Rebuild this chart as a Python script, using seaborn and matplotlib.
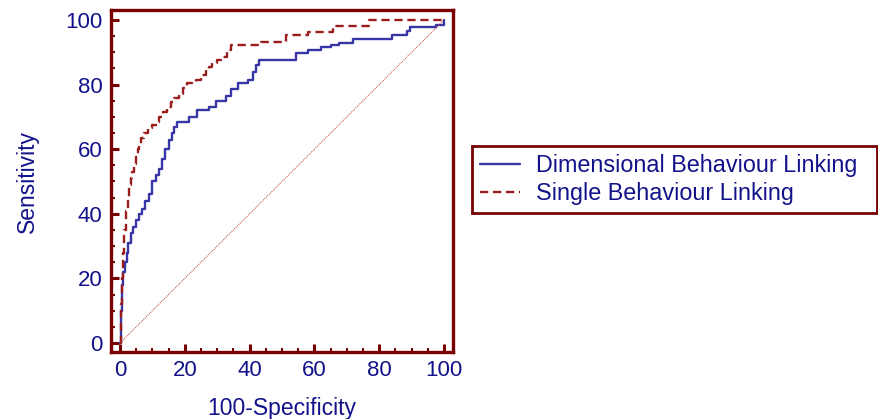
import numpy as np
import pandas as pd
import seaborn as sns
import matplotlib.pyplot as plt
from matplotlib.ticker import MultipleLocator

# ROC points (x = 100-Specificity, y = Sensitivity)
dim_fpr = [0, 0.3, 0.6, 1.0, 1.5, 2.0, 2.6, 3.3, 4.0, 4.9, 5.8, 6.8, 7.8, 9.0, 10.0, 11.0,
           12.0, 13.0, 14.0, 15.0, 16.0, 16.7, 17.6, 21.4, 23.9, 27.6, 29.6, 32.7, 34.3,
           36.3, 39.4, 41.0, 42.0, 43.0, 54.4, 58.0, 62.0, 65.0, 67.5, 72.0, 84.0, 88.5,
           89.5, 97.7, 100]
dim_tpr = [0, 10, 18, 22, 25, 28, 31, 34, 36, 38, 40, 41.5, 44, 46, 50, 52,
           54, 57, 60, 63, 65, 67, 68.5, 70, 72, 73, 75, 76.5, 78.5,
           80.5, 81.5, 84, 86, 87.6, 89.8, 90.7, 91.5, 92.2, 93, 94, 95.5, 96.5,
           97.7, 98.5, 100]

single_fpr = [0, 0.3, 0.6, 0.9, 1.2, 1.8, 2.3, 2.8, 3.3, 3.7, 4.3, 4.9, 5.4, 5.9, 6.6,
              7.4, 8.5, 9.9, 11.5, 12.0, 13.3, 14.6, 15.7, 16.7, 18.3, 19.5, 20.7, 23.4,
              25.0, 26.5, 27.5, 28.5, 30.0, 31.2, 33.0, 34.3, 43.5, 51.3, 58.0, 65.6,
              77.0, 100]
single_tpr = [0, 12, 20, 28, 35, 41, 45, 49, 51, 53, 55.5, 57.5, 60, 61.7, 63.5,
              65, 66.5, 67.4, 68.4, 70, 71.5, 73, 74.5, 75.7, 77.2, 78.8, 80.4, 81.4,
              83, 84.5, 85.5, 86.6, 87.6, 88.6, 90.7, 92.2, 93.3, 95.3, 96.4, 98,
              100, 100]

labels = ["Dimensional Behaviour Linking", "Single Behaviour Linking"]

sns.set_style("white")
plt.rcParams['font.family'] = ['Liberation Sans', 'DejaVu Sans']

navy = '#12128a'
frame = '#780000'
blue = '#3636a6'
red = '#9a1c1c'

fig = plt.figure(figsize=(8.79, 4.19), dpi=100)
ax = fig.add_axes([111/879, 1 - 352/419, 342/879, 342/419])

df_dim = pd.DataFrame({'fpr': dim_fpr, 'tpr': dim_tpr})
df_single = pd.DataFrame({'fpr': single_fpr, 'tpr': single_tpr})

sns.lineplot(data=df_dim, x='fpr', y='tpr', sort=False, estimator=None, ax=ax,
             color=blue, lw=1.7, drawstyle='steps-post', label=labels[0])
sns.lineplot(data=df_single, x='fpr', y='tpr', sort=False, estimator=None, ax=ax,
             color=red, lw=1.7, drawstyle='steps-post', dashes=False,
             linestyle=(0, (3.5, 2)), label=labels[1])
# chance line
ax.plot([0, 100], [0, 100], color='#c04040', lw=0.7, linestyle=(0, (1, 1)))

ax.set_xlim(-2.8, 102.8)
ax.set_ylim(-2.8, 103.1)
ax.xaxis.set_major_locator(MultipleLocator(20))
ax.yaxis.set_major_locator(MultipleLocator(20))
ax.xaxis.set_minor_locator(MultipleLocator(5))
ax.yaxis.set_minor_locator(MultipleLocator(5))
ax.tick_params(which='major', direction='in', length=6, width=2.2, color=frame,
               labelcolor=navy, labelsize=16, pad=6, top=False, right=False,
               bottom=True, left=True)
ax.tick_params(which='minor', direction='in', length=3, width=1.5, color=frame,
               top=False, right=False, bottom=True, left=True)
for s in ax.spines.values():
    s.set_color(frame)
    s.set_linewidth(2.4)

ax.set_xlabel('100-Specificity', fontsize=16.5, color=navy, labelpad=11)
ax.set_ylabel('Sensitivity', fontsize=16.5, color=navy, labelpad=19)

leg = ax.legend(loc='upper left',
                bbox_to_anchor=(472/879, 1 - 214/419, 405/879, 68/419),
                bbox_transform=fig.transFigure, mode='expand', borderaxespad=0,
                fontsize=16.8, handlelength=1.7, handletextpad=0.7,
                labelspacing=0.2, borderpad=0.35, fancybox=False, framealpha=1)
leg.get_frame().set_edgecolor(frame)
leg.get_frame().set_linewidth(2)
for t in leg.get_texts():
    t.set_color(navy)

plt.savefig('out.png', dpi=100)
